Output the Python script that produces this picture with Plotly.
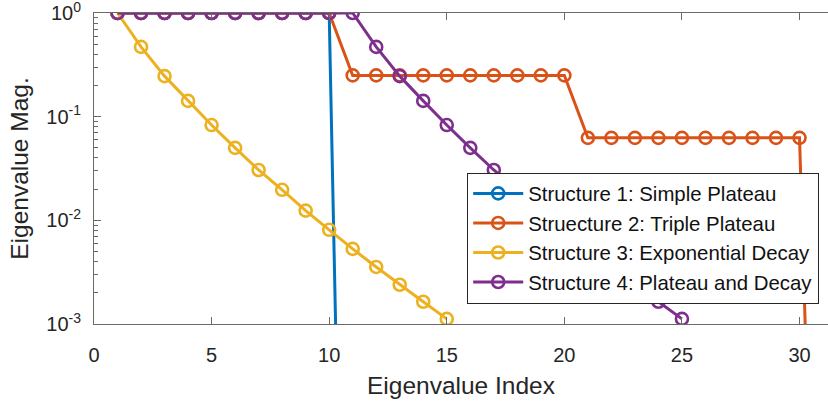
import plotly.graph_objects as go

# Eigenvalue magnitudes for four spectral structures
idx_simple = list(range(1, 12))
mag_simple = [1.0] * 10 + [1e-11]

idx_triple = list(range(1, 32))
mag_triple = [1.0] * 10 + [0.25] * 10 + [0.0625] * 10 + [2e-9]

idx_exp = list(range(1, 16))
mag_exp = [1.0, 0.471, 0.246, 0.142, 0.083, 0.050, 0.0306, 0.0197,
           0.0124, 0.0081, 0.0053, 0.00355, 0.00239, 0.00164, 0.00112]

idx_pd = list(range(1, 26))
mag_pd = [1.0] * 10 + [1.0, 0.471, 0.246, 0.142, 0.083, 0.050, 0.0306, 0.0197,
                       0.0124, 0.0081, 0.0053, 0.00355, 0.00239, 0.00164, 0.00112]

names = ["Structure 1: Simple Plateau",
         "Struecture 2: Triple Plateau",
         "Structure 3: Exponential Decay",
         "Structure 4: Plateau and Decay"]
colors = ["#0072BD", "#D95319", "#EDB120", "#7E2F8E"]

x_ticks = [0, 5, 10, 15, 20, 25, 30]
y_tickvals = [1e-3, 1e-2, 1e-1, 1]
y_ticktext = ["10<sup>-3</sup>", "10<sup>-2</sup>", "10<sup>-1</sup>", "10<sup>0</sup>"]

FONT = "Liberation Sans, Arial, Helvetica, sans-serif"
AX = "#262626"

fig = go.Figure()
series = [(idx_simple, mag_simple), (idx_triple, mag_triple),
          (idx_exp, mag_exp), (idx_pd, mag_pd)]
for (xs, ys), name, c in zip(series, names, colors):
    fig.add_trace(go.Scatter(
        x=xs, y=ys, name=name, mode="lines+markers",
        line=dict(color=c, width=3),
        marker=dict(symbol="circle-open", size=12, color=c,
                    line=dict(color=c, width=2.6)),
    ))

minor_y = [m * 10 ** e for e in (-3, -2, -1) for m in range(2, 10)]

fig.update_layout(
    width=828, height=402,
    margin=dict(l=94, r=0, t=13, b=78, autoexpand=False),
    paper_bgcolor="white", plot_bgcolor="white",
    font=dict(family=FONT, color=AX),
    showlegend=True,
    legend=dict(
        x=0.988, xanchor="right", y=0.276, yanchor="middle",
        bgcolor="white", bordercolor=AX, borderwidth=1,
        font=dict(size=20.4, color="#111111", family=FONT),
        itemwidth=50, tracegroupgap=0,
    ),
    xaxis=dict(
        range=[0, 31.21], tickvals=x_ticks,
        showline=True, linecolor="#6a6a6a", linewidth=1, mirror="ticks",
        ticks="inside", ticklen=7, tickcolor="#6a6a6a", tickwidth=1,
        showgrid=False, zeroline=False, ticklabeloverflow="allow",
        tickfont=dict(size=20, color=AX), ticklabelstandoff=13,
        title=dict(text="Eigenvalue Index", font=dict(size=24.5, color=AX), standoff=11),
    ),
    yaxis=dict(
        type="log", range=[-3, 0],
        tickvals=y_tickvals, ticktext=y_ticktext,
        showline=True, linecolor="#6a6a6a", linewidth=1, mirror=False,
        ticks="inside", ticklen=7, tickcolor="#6a6a6a", tickwidth=1,
        minor=dict(tickvals=minor_y, ticks="inside", ticklen=4,
                   tickcolor="#6a6a6a", showgrid=False),
        showgrid=False, zeroline=False, ticklabeloverflow="allow",
        tickfont=dict(size=20, color=AX), ticklabelstandoff=8,
        title=dict(text="Eigenvalue Mag.", font=dict(size=24.5, color=AX), standoff=10),
    ),
)

fig.write_html("out.html")
